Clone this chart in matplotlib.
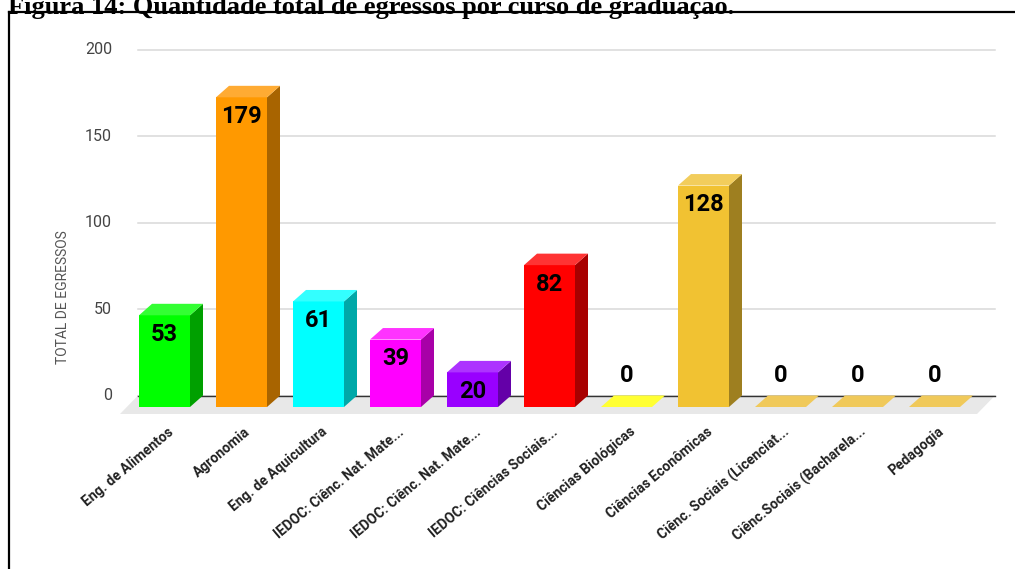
import matplotlib
matplotlib.use("Agg")
import matplotlib.pyplot as plt
from matplotlib.patches import Polygon
from matplotlib.lines import Line2D

# Data
cursos = ["Eng. de Alimentos", "Agronomia", "Eng. de Aquicultura",
          "IEDOC: Ciênc. Nat. Mate...", "IEDOC: Ciênc. Nat. Mate...",
          "IEDOC: Ciências Sociais...", "Ciências Biológicas",
          "Ciências Econômicas", "Ciênc. Sociais (Licenciat...",
          "Ciênc.Sociais (Bacharela...", "Pedagogia"]
egressos = [53, 179, 61, 39, 20, 82, 0, 128, 0, 0, 0]
cor_frente = ["#00ff00", "#ff9900", "#00ffff", "#ff00ff", "#9900ff", "#ff0000",
              "#ffff33", "#f1c232", "#f0c95a", "#f0c95a", "#f0c95a"]
cor_lado = ["#00a000", "#a86400", "#00a8a8", "#a800a8", "#6400a8", "#a80000",
            "#a8a800", "#9e7f20", "#9e7f20", "#9e7f20", "#9e7f20"]
cor_topo = ["#33ff33", "#ffab33", "#33ffff", "#ff33ff", "#ad33ff", "#ff3333",
            "#ffff33", "#f2cd5c", "#f0c95a", "#f0c95a", "#f0c95a"]
yticks = [0, 50, 100, 150, 200]

W, H = 1015, 569
fig = plt.figure(figsize=(W / 100, H / 100), dpi=100)

# axes placed so that pixel geometry is known
ax_l, ax_r, ax_t, ax_b = 110, 1005, 40, 420
ax = fig.add_axes([ax_l / W, (H - ax_b) / H, (ax_r - ax_l) / W, (ax_b - ax_t) / H])
pxu = 1.73                      # pixels per value unit
ppx = 77.0                      # pixels per category
x0 = -(164.5 - ax_l) / ppx
y0 = -(ax_b - 407) / pxu
ax.set_xlim(x0, x0 + (ax_r - ax_l) / ppx)
ax.set_ylim(y0, y0 + (ax_b - ax_t) / pxu)
ax.axis("off")

dx = 13 / ppx
dy = 11.5 / pxu
half = 25.5 / ppx

# gridlines on the back wall
gx0 = (138 - 164.5) / ppx
gx1 = (995 - 164.5) / ppx
for v in yticks:
    ax.plot([gx0, gx1], [v + dy, v + dy], color="#d9d9d9", lw=1.1, zorder=1)
    ax.text(gx0 - 26 / ppx, v + dy, str(v), ha="right", va="center",
            fontsize=11.5, color="#444444", family="Roboto")

# floor
fdx = 18 / ppx
ffront = -7 / pxu
floor = Polygon([[gx0, dy], [gx1, dy], [gx1 - fdx, ffront], [gx0 - fdx, ffront]],
                closed=True, facecolor="#e8e8e8", edgecolor="none", zorder=0.5)
ax.add_patch(floor)
ax.plot([gx0, gx1], [dy, dy], color="#333333", lw=1.0, zorder=1.2)

# bars
for i, v in enumerate(egressos):
    l, r = i - half, i + half
    if v > 0:
        ax.add_patch(Polygon([[l, 0], [r, 0], [r, v], [l, v]], closed=True,
                             facecolor=cor_frente[i], edgecolor="none", zorder=3))
        ax.add_patch(Polygon([[r, 0], [r + dx, dy], [r + dx, v + dy], [r, v]], closed=True,
                             facecolor=cor_lado[i], edgecolor="none", zorder=3))
        ax.add_patch(Polygon([[l, v], [r, v], [r + dx, v + dy], [l + dx, v + dy]], closed=True,
                             facecolor=cor_topo[i], edgecolor="none", zorder=3))
        ax.text(i, v - 19 / pxu, str(v), ha="center", va="center", fontsize=17,
                fontweight="bold", color="black", family="Roboto", zorder=4)
    else:
        ax.add_patch(Polygon([[l, 0], [r, 0], [r + dx, dy], [l + dx, dy]], closed=True,
                             facecolor=cor_frente[i], edgecolor="none", zorder=3))
        ax.text(i, 32 / pxu, str(v), ha="center", va="center", fontsize=17,
                fontweight="bold", color="black", family="Roboto", zorder=4)

# category labels
for i, c in enumerate(cursos):
    ax.text(i + 7 / ppx, -23 / pxu, c, ha="right", va="center", rotation=40,
            rotation_mode="anchor", fontsize=10, fontweight="bold",
            color="#222222", family="Roboto")

fig.text(63 / W, 1 - 297 / H, "TOTAL DE EGRESSOS", rotation=90, ha="center",
         va="center", fontsize=10, color="#555555", family="Roboto")

# page title (cut at the top, as in the reference) and frame
fig.text(8 / W, 1 - 14 / H, "Figura 14: Quantidade total de egressos por curso de graduação.",
         ha="left", va="baseline", fontsize=19, fontweight="bold",
         family="Liberation Serif", color="black")
fig.add_artist(Line2D([8.5 / W, 8.5 / W], [0, 1 - 12 / H], color="black", lw=1.6,
                      transform=fig.transFigure))
fig.add_artist(Line2D([8.5 / W, 1], [1 - 12 / H, 1 - 12 / H], color="black", lw=1.6,
                      transform=fig.transFigure))

fig.savefig("out.png", dpi=100)
